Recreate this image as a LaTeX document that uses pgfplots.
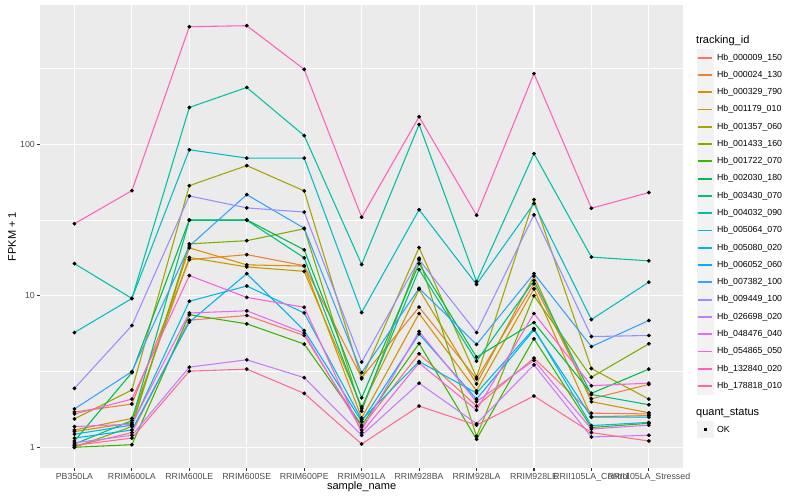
\documentclass[border=0pt]{standalone}
\usepackage{pgfplots}
\pgfplotsset{compat=1.18}
\usepackage{pgfplotstable}
\usepackage{fontspec}
\setmainfont{Liberation Sans}

\definecolor{c1}{HTML}{F8766D}
\definecolor{c2}{HTML}{EA8331}
\definecolor{c3}{HTML}{D89000}
\definecolor{c4}{HTML}{C09B00}
\definecolor{c5}{HTML}{A3A500}
\definecolor{c6}{HTML}{7CAE00}
\definecolor{c7}{HTML}{39B600}
\definecolor{c8}{HTML}{00BB4E}
\definecolor{c9}{HTML}{00BF7D}
\definecolor{c10}{HTML}{00C1A3}
\definecolor{c11}{HTML}{00BFC4}
\definecolor{c12}{HTML}{00BAE0}
\definecolor{c13}{HTML}{00B0F6}
\definecolor{c14}{HTML}{35A2FF}
\definecolor{c15}{HTML}{9590FF}
\definecolor{c16}{HTML}{C77CFF}
\definecolor{c17}{HTML}{E76BF3}
\definecolor{c18}{HTML}{FA62DB}
\definecolor{c19}{HTML}{FF62BC}
\definecolor{c20}{HTML}{FF6C91}
\definecolor{panel}{HTML}{EBEBEB}
\definecolor{keybg}{HTML}{F2F2F2}
\definecolor{gray30}{HTML}{4D4D4D}
\definecolor{gray20}{HTML}{333333}

% FPKM + 1 per sample (rows) and gene (columns s1..s20)
\pgfplotstableread{
x  s1   s2    s3    s4    s5    s6    s7    s8    s9    s10   s11   s12   s13   s14   s15   s16   s17   s18   s19   s20
0  1.02 1.71  1.27  1.30  1.54  1.00  1.00  1.10  1.05  16.3  5.72  1.22  1.15  1.79  2.45  1.07  1.37  1.66  29.9  1.03
1  1.25 1.93  1.45  1.55  2.39  1.37  1.04  3.11  1.50  9.6   9.6   1.40  1.30  3.16  6.36  1.20  1.42  2.08  49.4  1.15
2  6.9  17.3  20.7  17.9  53.3  22.0  7.5   31.7  31.5  175   92    9.2   6.7   21.3  45.6  3.38  7.7   13.6  597   3.18
3  7.41 18.7  16.0  15.5  72.3  23.1  6.53  31.7  31.5  237   81    11.6  14.0  46.5  38.0  3.78  7.96  9.75  606   3.28
4  5.47 15.8  15.7  14.5  49.2  27.7  4.8   20.1  17.8  114   81    7.7   5.9   27.9  35.7  2.88  5.67  8.4   312   2.27
5  1.36 2.88  1.56  1.85  2.83  1.73  1.40  2.12  1.80  16.1  7.76  1.52  1.48  3.11  3.65  1.20  1.30  1.25  33    1.05
6  4.14 8.42  7.64  11.0  20.8  17.7  4.84  16.3  14.9  135   37    3.68  5.6   11.2  17.3  2.65  5.81  3.6   152   1.87
7  1.87 2.83  2.36  2.62  2.90  1.18  1.13  3.94  3.70  12.4  11.9  2.28  2.08  4.77  5.72  1.43  2.00  1.76  34    1.40
8  3.88 12.0  11.1  13.5  43.1  10.0  5.2   6.66  12.6  86.8  40.6  6.08  5.95  14.0  34.2  3.50  3.75  7.64  293   2.18
9  1.68 2.09  1.59  2.00  3.31  2.90  1.35  2.27  2.23  18.0  6.97  1.39  1.58  4.62  5.38  1.17  1.32  2.55  37.8  1.25
10 1.66 2.60  1.62  1.69  2.08  4.82  1.44  3.28  1.91  17.0  12.3  1.46  1.58  6.87  5.47  1.20  1.40  2.65  48    1.10
}\data

\begin{document}
\begin{tikzpicture}[x=1pt,y=1pt]
\useasboundingbox (0,0) rectangle (800,500);
\begin{axis}[
    at={(40pt,32pt)}, anchor=south west,
    scale only axis, width=643.3pt, height=463.3pt,
    ymode=log,
    xmin=-0.6, xmax=10.6, ymin=0.73, ymax=834,
    axis x line*=bottom, axis y line*=left,
    axis line style={draw=none},
    axis background/.style={fill=panel},
    xtick={0,...,10},
    xticklabels={PB350LA,RRIM600LA,RRIM600LE,RRIM600SE,RRIM600PE,RRIM901LA,RRIM928BA,RRIM928LA,RRIM928LE,RRII105LA\_Control,RRII105LA\_Stressed},
    ytick={1,10,100}, yticklabels={1,10,100},
    minor ytick={3.1623,31.623,316.23},
    xmajorgrids, ymajorgrids, yminorgrids,
    major grid style={white, line width=1.07pt},
    minor grid style={white, line width=0.53pt},
    tick align=outside,
    major tick length=2.75pt, minor tick length=0pt,
    tick style={gray20, line width=1.07pt},
    ticklabel style={font=\fontsize{8.8}{10}\selectfont, text=gray30, inner sep=0pt},
    xticklabel style={yshift=-2.2pt},
    yticklabel style={xshift=-2.2pt},
    clip=true,
]
\pgfplotsinvokeforeach{1,...,20}{
  \addplot[color=c#1, line width=1.07pt, no marks] table[x=x, y=s#1]{\data};
}
\pgfplotsinvokeforeach{1,...,20}{
  \addplot[only marks, mark=*, mark size=1.7pt, black] table[x=x, y=s#1]{\data};
}
\end{axis}
% axis titles
\node[font=\fontsize{11}{13}\selectfont] at (361.6,13) {sample\_name};
\node[font=\fontsize{11}{13}\selectfont, rotate=90] at (12,263.5) {FPKM + 1};
% legend
\node[anchor=west, inner sep=0pt, font=\fontsize{11}{13}\selectfont] at (696,459.3) {tracking\_id};
\foreach \n/\c [count=\i] in {000009\_150/c1,000024\_130/c2,000329\_790/c3,001179\_010/c4,001357\_060/c5,001433\_160/c6,001722\_070/c7,002030\_180/c8,003430\_070/c9,004032\_090/c10,005064\_070/c11,005080\_020/c12,006052\_060/c13,007382\_100/c14,009449\_100/c15,026698\_020/c16,048476\_040/c17,054865\_050/c18,132840\_020/c19,178818\_010/c20}{
  \pgfmathsetmacro{\yc}{500-57.7-17.28*(\i-1)}
  \fill[keybg] (696.5,\yc-8.64) rectangle (713.78,\yc+8.64);
  \draw[draw=\c, line width=1.8pt] (698.2,\yc) -- (712.1,\yc);
  \node[anchor=west, inner sep=0pt, font=\fontsize{8.8}{10}\selectfont] at (716.8,\yc) {Hb\_\n};
}
\node[anchor=west, inner sep=0pt, font=\fontsize{11}{13}\selectfont] at (696,87.3) {quant\_status};
\fill[keybg] (696.5,70.7-8.64) rectangle (713.78,70.7+8.64);
\fill[black] (705.14-1.6,70.7-1.6) rectangle (705.14+1.6,70.7+1.6);
\node[anchor=west, inner sep=0pt, font=\fontsize{8.8}{10}\selectfont] at (716.8,70.7) {OK};
\end{tikzpicture}
\end{document}
